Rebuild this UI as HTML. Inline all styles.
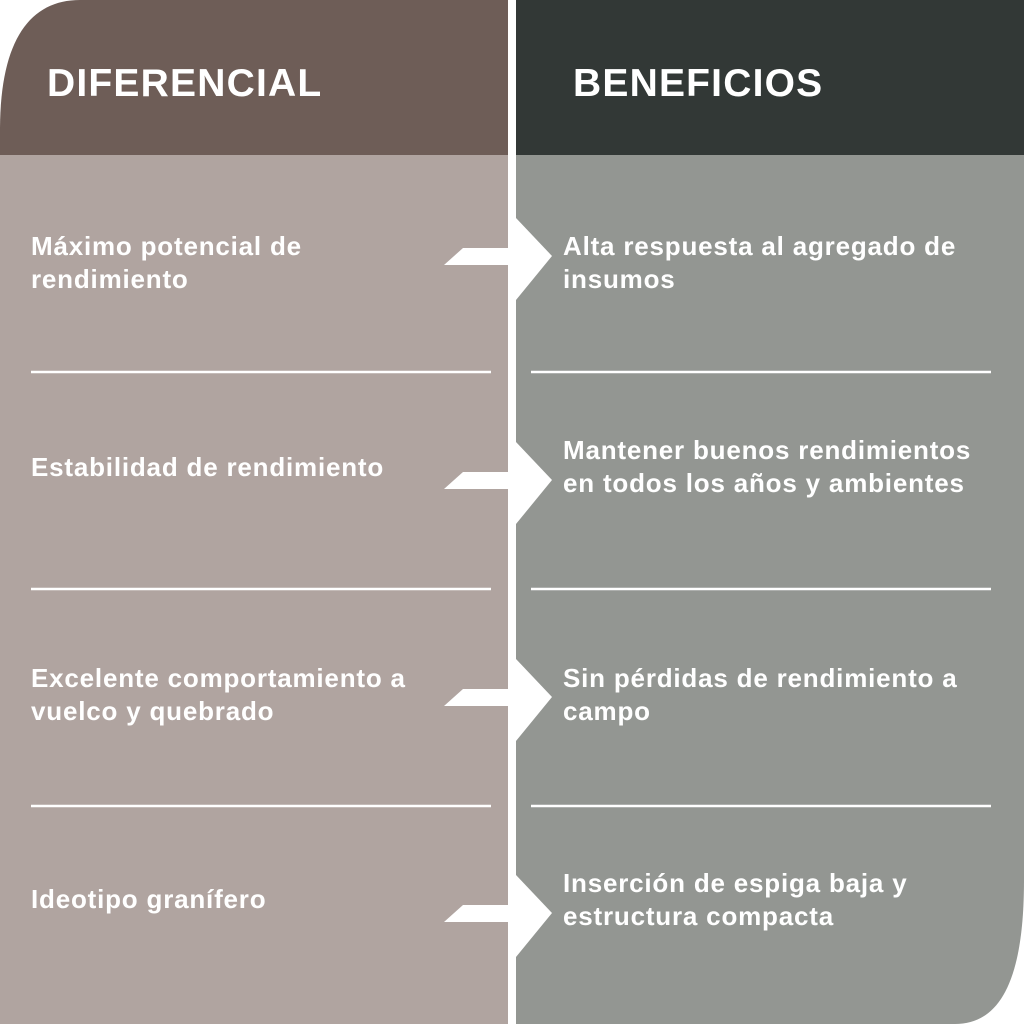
<!DOCTYPE html>
<html><head><meta charset="utf-8"><style>
body{margin:0;width:1024px;height:1024px;background:#fff;overflow:hidden;position:relative;font-family:"Liberation Sans",sans-serif}
.t{position:absolute;color:#fff;font-weight:bold;font-size:26px;line-height:33px;letter-spacing:0.8px;white-space:nowrap}
.h{position:absolute;color:#fff;font-weight:bold;font-size:39px;top:62px;letter-spacing:1.2px}
</style></head><body>
<svg width="1024" height="1024" style="position:absolute;left:0;top:0">
<path d="M0,155 L0,130 C0,40 30,0 80,0 L508,0 L508,155Z" fill="#6e5d57"/>
<rect x="0" y="155" width="508" height="869" fill="#b0a4a0"/>
<rect x="516" y="0" width="508" height="155" fill="#323836"/>
<path d="M516,155 L1024,155 L1024,880 C1024,980 1000,1024 955,1024 L516,1024Z" fill="#939692"/>
<g fill="#fff">
<polygon points="444,265 463,248 517,248 517,265"/><polygon points="516,218 552,256 516,300"/>
<polygon points="444,489 463,472 517,472 517,489"/><polygon points="516,442 552,480 516,524"/>
<polygon points="444,706 463,689 517,689 517,706"/><polygon points="516,659 552,697 516,741"/>
<polygon points="444,922 463,905 517,905 517,922"/><polygon points="516,875 552,913 516,957"/>
</g>
<g stroke="#fff" stroke-width="2.5">
<line x1="31" y1="372" x2="491" y2="372"/><line x1="531" y1="372" x2="991" y2="372"/>
<line x1="31" y1="589" x2="491" y2="589"/><line x1="531" y1="589" x2="991" y2="589"/>
<line x1="31" y1="806" x2="491" y2="806"/><line x1="531" y1="806" x2="991" y2="806"/>
</g>
</svg>
<div class="h" style="left:47px">DIFERENCIAL</div>
<div class="h" style="left:573px">BENEFICIOS</div>
<div class="t" style="left:31px;top:230px">Máximo potencial de<br>rendimiento</div>
<div class="t" style="left:563px;top:230px">Alta respuesta al agregado de<br>insumos</div>
<div class="t" style="left:31px;top:451px">Estabilidad de rendimiento</div>
<div class="t" style="left:563px;top:434px">Mantener buenos rendimientos<br>en todos los años y ambientes</div>
<div class="t" style="left:31px;top:662px">Excelente comportamiento a<br>vuelco y quebrado</div>
<div class="t" style="left:563px;top:662px">Sin pérdidas de rendimiento a<br>campo</div>
<div class="t" style="left:31px;top:883px">Ideotipo granífero</div>
<div class="t" style="left:563px;top:867px">Inserción de espiga baja y<br>estructura compacta</div>
</body></html>
